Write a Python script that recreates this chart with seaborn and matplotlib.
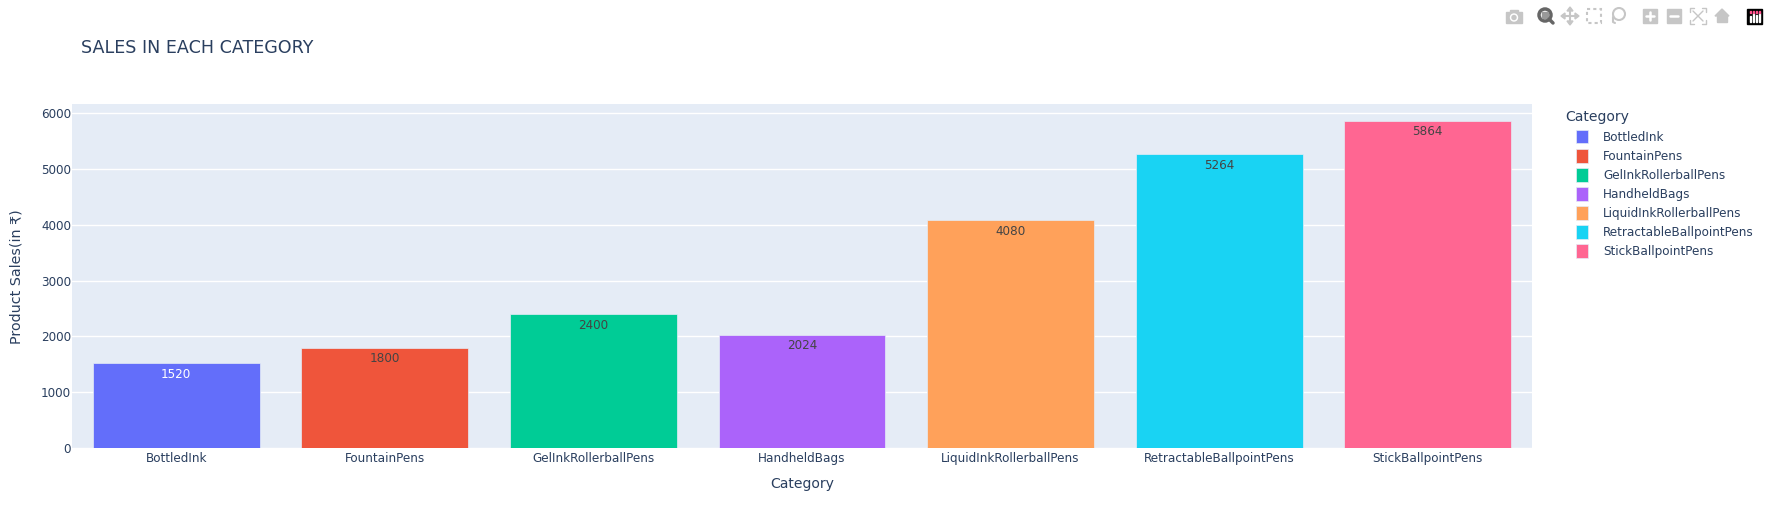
import matplotlib
matplotlib.use("Agg")
import matplotlib.pyplot as plt
from matplotlib.patches import Circle, Polygon, Rectangle, Patch
import pandas as pd
import seaborn as sns

# ------------------------------
# Data
# ------------------------------
categories = ["BottledInk", "FountainPens", "GelInkRollerballPens", "HandheldBags",
              "LiquidInkRollerballPens", "RetractableBallpointPens", "StickBallpointPens"]
sales = [1520, 1800, 2400, 2024, 4080, 5264, 5864]
colors = ["#636EFA", "#EF553B", "#00CC96", "#AB63FA", "#FFA15A", "#19D3F3", "#FF6692"]
label_colors = ["white", "#444444", "#444444", "#444444", "#444444", "#444444", "#444444"]
y_ticks = [0, 1000, 2000, 3000, 4000, 5000, 6000]

df = pd.DataFrame({"Category": categories, "Sales": sales})

W, H = 1767, 505
TEXT = "#2a3f5f"
PX = 0.72  # 1 px in points at dpi 100

sns.set_theme(style="darkgrid")
plt.rcParams["font.family"] = ["DejaVu Sans"]

fig = plt.figure(figsize=(W / 100, H / 100), dpi=100, facecolor="white")
ax = fig.add_axes([72 / W, 1 - 448 / H, (1532 - 72) / W, (448 - 104) / H], facecolor="#E5ECF6")

# ------------------------------
# Bars
# ------------------------------
sns.barplot(data=df, x="Category", y="Sales", hue="Category", order=categories, hue_order=categories,
            palette=colors, dodge=False, width=0.8, saturation=1, legend=False,
            edgecolor="#E5ECF6", linewidth=0.5, ax=ax)

for container, c in zip(ax.containers, label_colors):
    ax.bar_label(container, padding=-12.5, color=c, fontsize=12 * PX)

ax.set_xlim(-0.5, 6.5)
ax.set_ylim(0, 6168)
ax.set_yticks(y_ticks)
ax.grid(axis="y", color="white", linewidth=1)
ax.grid(axis="x", visible=False)
ax.set_axisbelow(True)
for s in ax.spines.values():
    s.set_visible(False)
ax.tick_params(axis="both", length=0, labelsize=12 * PX, labelcolor=TEXT)
ax.tick_params(axis="x", pad=3)
ax.tick_params(axis="y", pad=0.7)

ax.set_xlabel("")
ax.set_ylabel("")
fig.text(802 / W, 1 - 484 / H, "Category", color=TEXT, fontsize=14 * PX, ha="center", va="center")
fig.text(16 / W, 1 - 277 / H, "Product Sales(in ₹)", color=TEXT, fontsize=14.2 * PX,
         rotation=90, ha="center", va="center")
fig.text(81 / W, 1 - 48 / H, "SALES IN EACH CATEGORY", color=TEXT, fontsize=17.5 * PX, ha="left", va="center")

# ------------------------------
# Legend
# ------------------------------
handles = [Patch(facecolor=c, edgecolor="#E5ECF6", linewidth=0.5, label=n) for c, n in zip(colors, categories)]
leg = fig.legend(handles=handles, loc="upper left",
                 bbox_to_anchor=(1576 / W, 1 - 130 / H), bbox_transform=fig.transFigure,
                 frameon=False, fontsize=12 * PX,
                 handlelength=1.0, handleheight=1.35, handletextpad=1.25, labelspacing=0.445,
                 borderpad=0, borderaxespad=0)
for t in leg.get_texts():
    t.set_color(TEXT)
fig.text(1565 / W, 1 - 117 / H, "Category", color=TEXT, fontsize=14 * PX, ha="left", va="center")

# ------------------------------
# Toolbar icons (top right)
# ------------------------------
top = fig.add_axes([0, 0, 1, 1], facecolor="none")
top.set_xlim(0, W)
top.set_ylim(H, 0)
top.axis("off")
grey = "#c6c6c6"

# camera
top.add_patch(Rectangle((1506, 12), 16, 11, color=grey))
top.add_patch(Rectangle((1510, 10), 8, 3, color=grey))
top.add_patch(Circle((1514, 17.5), 3.5, color="white"))
top.add_patch(Circle((1514, 17.5), 2, color=grey))
# zoom
top.add_patch(Circle((1545, 15), 6, fill=False, ec="#666666", lw=2.5))
top.add_patch(Rectangle((1542, 12), 6, 6, color="#999999"))
top.plot([1549, 1553], [19, 23], color="#666666", lw=2.5)
# pan
top.plot([1563, 1577], [16, 16], color=grey, lw=1.5)
top.plot([1570, 1570], [9, 23], color=grey, lw=1.5)
for p in [[(1561, 16), (1565, 13), (1565, 19)], [(1579, 16), (1575, 13), (1575, 19)],
          [(1570, 7), (1567, 11), (1573, 11)], [(1570, 25), (1567, 21), (1573, 21)]]:
    top.add_patch(Polygon(p, color=grey))
# box select
top.add_patch(Rectangle((1587, 9), 14, 14, fill=False, ec=grey, lw=1.5, ls=(0, (1.5, 1.5))))
# lasso
top.add_patch(Circle((1619, 14), 6, fill=False, ec=grey, lw=1.5))
top.plot([1613, 1613, 1615], [17, 22, 23], color=grey, lw=1.5)
# zoom in / out
for x0 in (1643, 1667):
    top.add_patch(Rectangle((x0, 9), 14, 14, color=grey))
    top.plot([x0 + 3, x0 + 11], [16, 16], color="white", lw=1.8)
top.plot([1650, 1650], [12, 20], color="white", lw=1.8)
# autoscale
top.plot([1690, 1690, 1694], [12, 8, 8], color=grey, lw=1)
top.plot([1702, 1706, 1706], [8, 8, 12], color=grey, lw=1)
top.plot([1690, 1690, 1694], [20, 24, 24], color=grey, lw=1)
top.plot([1702, 1706, 1706], [24, 24, 20], color=grey, lw=1)
top.plot([1693, 1703], [11, 21], color=grey, lw=1)
top.plot([1703, 1693], [11, 21], color=grey, lw=1)
# home
top.add_patch(Polygon([(1715, 16), (1722, 9), (1729, 16)], color=grey))
top.add_patch(Rectangle((1717, 16), 10, 6, color=grey))
# plotly logo
top.add_patch(Rectangle((1747, 9), 15, 15, color="black"))
for x0, hh in zip((1749.5, 1752.5, 1755.5, 1758.5), (6, 9, 7, 9)):
    top.add_patch(Rectangle((x0, 22 - hh), 1.5, hh, color="white"))
    top.add_patch(Rectangle((x0, 11), 1.5, 1.5, color="#ff4f8b"))

fig.savefig("out.png", dpi=100, facecolor="white")
